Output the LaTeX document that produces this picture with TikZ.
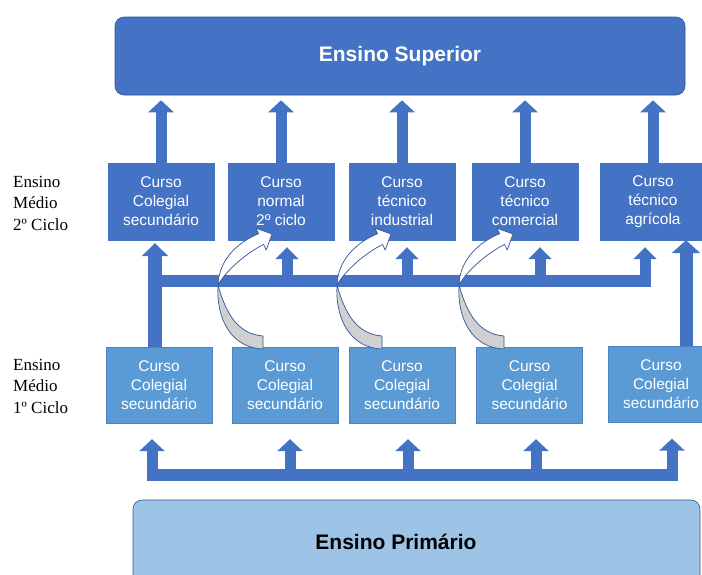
\documentclass[tikz,border=0pt]{standalone}
\usepackage{fontspec}
\setmainfont{Liberation Sans}
\newfontfamily\cyclefont{Liberation Serif}
\usetikzlibrary{arrows.meta}

\definecolor{supblue}{HTML}{4472C4}
\definecolor{midblue}{HTML}{5B9BD5}
\definecolor{primblue}{HTML}{9DC3E6}
\definecolor{edgeblue}{HTML}{2F5597}
\definecolor{twistgray}{HTML}{D0D0D0}

\begin{document}
\begin{tikzpicture}[x=1pt,y=-1pt,
					level box/.style={rounded corners=9pt,draw=edgeblue,line width=0.6pt,font=\fontsize{21}{25}\selectfont\bfseries},
					course/.style={fill=supblue,draw=supblue,line width=0.4pt,minimum width=106pt,minimum height=77pt,inner sep=0pt,align=center,text=white,font=\fontsize{15.5}{19}\selectfont},
					base course/.style={course,fill=midblue,draw=supblue!60!midblue,minimum height=76pt},
					fat up/.style={draw=supblue,line width=11pt,-{Triangle[width=25pt,length=12pt]}},
					bus/.style={draw=supblue,line width=12pt},
					twist/.style={draw=edgeblue,line width=0.7pt,line join=round},
					cycle label/.style={anchor=west,inner sep=0pt,align=left,font=\cyclefont\fontsize{17}{21.5}\selectfont}]
	\path[use as bounding box] (0,0) rectangle (702,574);
	\clip (0,0) rectangle (702,574);

	\node[level box,fill=supblue,text=white,minimum width=570pt,minimum height=78pt] (sup) at (400,56) {Ensino Superior};
	\node[level box,fill=primblue,minimum width=567pt,minimum height=90pt] (prim) at (416.5,545) {};
	\node[font=\fontsize{21}{25}\selectfont\bfseries] (primtext) at (396,542) {Ensino Prim\'ario};

	\node[cycle label] (ciclo2) at (13,203) {Ensino\\M\'edio\\2º Ciclo};
	\node[cycle label] (ciclo1) at (13,386) {Ensino\\M\'edio\\1º Ciclo};

	\node[course] (colegial) at (161,201.5) {Curso\\Colegial\\secund\'ario};
	\node[course] (normal) at (281,201.5) {Curso\\normal\\2º ciclo};
	\node[course] (industrial) at (402,201.5) {Curso\\t\'ecnico\\industrial};
	\node[course] (comercial) at (525,201.5) {Curso\\t\'ecnico\\comercial};
	\node[course] (agricola) at (653,201.5) {Curso\\t\'ecnico\\agr\'icola};

	\node[base course] (prep1) at (159,385) {Curso\\Colegial\\secund\'ario};
	\node[base course] (prep2) at (285,385) {Curso\\Colegial\\secund\'ario};
	\node[base course] (prep3) at (402,385) {Curso\\Colegial\\secund\'ario};
	\node[base course] (prep4) at (529.5,385) {Curso\\Colegial\\secund\'ario};
	\node[base course] (prep5) at (661,384.5) {Curso\\Colegial\\secund\'ario};

	\foreach \n in {colegial,normal,industrial,comercial,agricola}
		\draw[fat up,shorten >=5pt] (\n.north) -- (\n.north |- sup.south);

	\coordinate (busL) at (147,475);
	\coordinate (busR) at (677,475);
	\draw[bus] (busL) -- (busR);
	\foreach \x/\n in {152/prep1,290/prep2,408/prep3,536/prep4,672/prep5}
		\draw[fat up,shorten >=16pt] (\x,481) -- (\x,0 |- \n.south);

	\coordinate (midL) at (155,281);
	\coordinate (midR) at (651,281);
	\draw[bus] (midL) -- (midR);
	\draw[fat up,line width=14pt,-{Triangle[width=26pt,length=13pt]},shorten >=3pt] (155,0 |- prep1.north) -- (155,0 |- colegial.south);
	\foreach \x/\n in {287/normal,407/industrial,540/comercial,645/agricola}
		\draw[fat up,-{Triangle[width=23pt,length=12pt]},shorten >=7pt] (\x,287) -- (\x,0 |- \n.south);
	\draw[fat up,line width=13pt,-{Triangle[width=28pt,length=13pt]}] (686,0 |- prep5.north) -- (686,0 |- agricola.south);

	\foreach \dx in {0,119,241}
	{
		\begin{scope}[xshift=\dx]
			\draw[twist,fill=twistgray] (218,285) .. controls (216,320) and (232,348) .. (263,349) -- (263,336)
				.. controls (238,334) and (226,314) .. (218,285) -- cycle;
			\draw[twist,fill=white] (218,285) .. controls (219,256) and (243,240) .. (258.6,233.7) -- (256,228.2) -- (272,234)
				-- (266.2,250) -- (263.6,244.5) .. controls (252.7,249.6) and (229,266) .. (218,285) -- cycle;
		\end{scope}
	}
\end{tikzpicture}
\end{document}
